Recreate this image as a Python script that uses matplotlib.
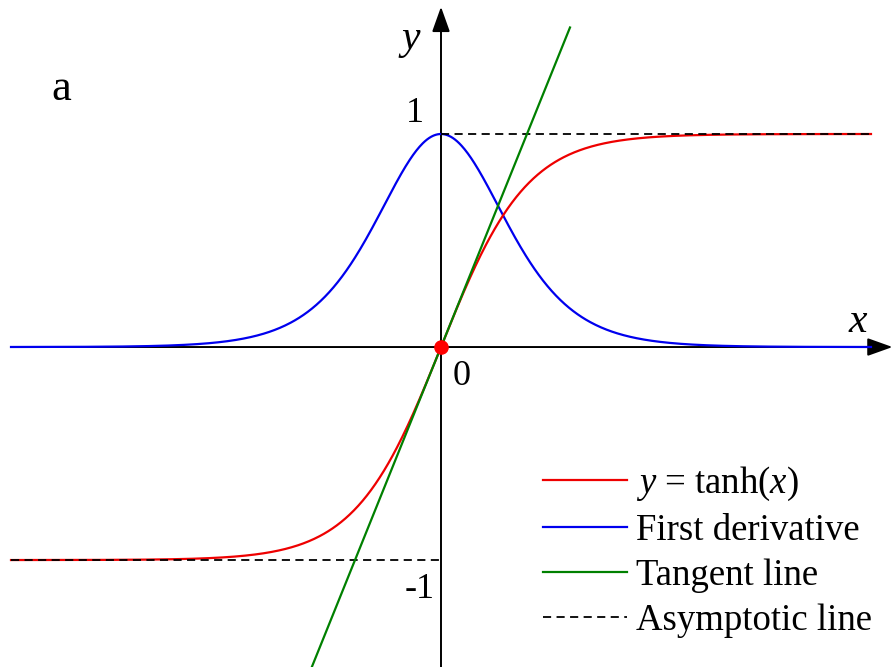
import numpy as np
import matplotlib
matplotlib.use("Agg")
import matplotlib.pyplot as plt

plt.rcParams['font.family'] = ['Liberation Serif', 'DejaVu Serif']
plt.rcParams['mathtext.fontset'] = 'custom'
plt.rcParams['mathtext.rm'] = 'Liberation Serif'
plt.rcParams['mathtext.it'] = 'Liberation Serif:italic'

# domain and curves
x_min, x_max = -5.0, 5.0
x = np.linspace(x_min, x_max, 801)
tanh_y = np.tanh(x)
deriv_y = 1.0 - np.tanh(x) ** 2          # d/dx tanh(x) = sech^2(x)
tangent_x = np.array([-1.5, 1.5])
tangent_y = tangent_x                    # slope 1 through the origin
asym_upper_x = np.array([0.0, 5.0])
asym_lower_x = np.array([-5.0, 0.0])
asym_levels = [1.0, -1.0]

labels = ["$y$ = tanh($x$)", "First derivative", "Tangent line", "Asymptotic line"]

fig = plt.figure(figsize=(8.93, 6.67), dpi=100)
ax = fig.add_axes([0, 0, 1, 1])
ax.set_xlim(-5.128, 5.256)
ax.set_ylim(-1.502, 1.629)
ax.axis('off')

# coordinate axes with arrow heads
arrow = dict(arrowstyle='-|>,head_length=0.7,head_width=0.25', lw=1.4,
             color='k', mutation_scale=22, shrinkA=0, shrinkB=0)
ax.annotate('', xy=(5.25, 0), xytext=(x_min, 0), arrowprops=arrow,
            annotation_clip=False, zorder=1)
ax.annotate('', xy=(0, 1.597), xytext=(0, -1.51), arrowprops=arrow,
            annotation_clip=False, zorder=1)

dash = dict(color='k', ls='--', lw=1.3, dashes=(4.5, 3))
ax.plot(x, deriv_y, color='#0000ee', lw=1.6, zorder=3)
ax.plot(x, tanh_y, color='#ee0000', lw=1.6, zorder=4)
ax.plot(asym_upper_x, [asym_levels[0]] * 2, zorder=5, **dash)
ax.plot(asym_lower_x, [asym_levels[1]] * 2, zorder=5, **dash)
ax.plot(tangent_x, tangent_y, color='#008000', lw=1.6, zorder=6)
ax.plot([0], [0], 'o', color='#ff0000', ms=9.5, zorder=7)

# legend
h_red, = ax.plot([], [], color='#ee0000', lw=1.6)
h_blue, = ax.plot([], [], color='#0000ee', lw=1.6)
h_green, = ax.plot([], [], color='#008000', lw=1.6)
h_dash, = ax.plot([], [], **dash)
ax.legend([h_red, h_blue, h_green, h_dash], labels, loc='lower left',
          bbox_to_anchor=(543 / 893, 0.044), frameon=False, fontsize=26.5,
          handlelength=2.28, handletextpad=0.25, labelspacing=0.28,
          borderaxespad=0, borderpad=0)

# text labels
ax.text(-0.36, 1.44, '$y$', fontsize=30, ha='center', va='center')
ax.text(4.85, 0.12, '$x$', fontsize=30, ha='center', va='center')
ax.text(-0.3, 1.095, '1', fontsize=26, ha='center', va='center')
ax.text(0.24, -0.14, '0', fontsize=26, ha='center', va='center')
ax.text(-0.25, -1.14, '-1', fontsize=26, ha='center', va='center')
ax.text(-4.42, 1.21, 'a', fontsize=32, ha='center', va='center')

fig.savefig('out.png', dpi=100)
